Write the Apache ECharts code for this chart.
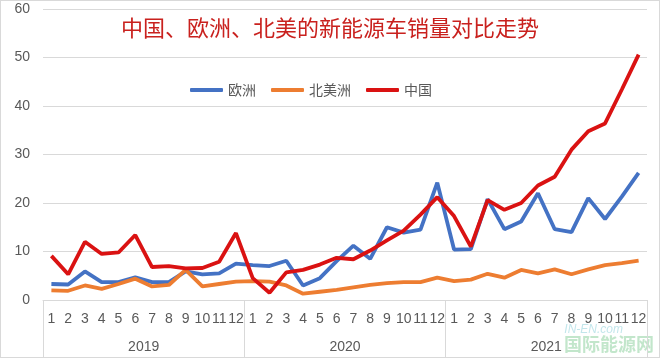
<!DOCTYPE html>
<html>
<head>
<meta charset="utf-8">
<script src="https://cdn.jsdelivr.net/npm/echarts@6/dist/echarts.min.js"></script>
<style>
html,body{margin:0;padding:0;background:#fff;}
#chart{width:660px;height:358px;box-sizing:border-box;border:1px solid #d9d9d9;}
</style>
</head>
<body>
<div id="chart"></div>
<script>
const months = ['1','2','3','4','5','6','7','8','9','10','11','12',
                '1','2','3','4','5','6','7','8','9','10','11','12',
                '1','2','3','4','5','6','7','8','9','10','11','12'];
const years = ['2019','2020','2021'];
const yTicks = {min:0, max:60, interval:10};

const europe = [3.3, 3.2, 5.9, 3.7, 3.7, 4.7, 3.7, 3.7, 5.9, 5.3, 5.5, 7.5,
                7.2, 7.0, 8.1, 3.0, 4.5, 8.0, 11.2, 8.5, 15.0, 13.9, 14.5, 24.2,
                10.4, 10.5, 20.8, 14.6, 16.2, 22.0, 14.6, 14.0, 21.0, 16.7, 21.3, 26.2];
const northAmerica = [2.0, 1.9, 3.0, 2.3, 3.3, 4.4, 2.8, 3.1, 6.2, 2.8, 3.3, 3.8,
                      3.9, 3.8, 3.0, 1.3, 1.7, 2.1, 2.6, 3.1, 3.5, 3.7, 3.7, 4.6,
                      3.9, 4.2, 5.4, 4.6, 6.2, 5.5, 6.3, 5.3, 6.3, 7.2, 7.6, 8.1];
const china = [9.1, 5.3, 12.0, 9.5, 9.8, 13.4, 6.8, 7.0, 6.5, 6.6, 7.9, 13.8,
               4.5, 1.5, 5.7, 6.2, 7.3, 8.7, 8.4, 10.2, 12.3, 14.3, 17.6, 21.2,
               17.3, 11.0, 20.6, 18.6, 20.0, 23.6, 25.4, 31.0, 34.8, 36.4, 43.4, 50.6];

const seriesNames = ['欧洲','北美洲','中国'];
const seriesColors = ['#4472C4','#ED7D31','#DA1212'];
const titleText = '中国、欧洲、北美的新能源车销量对比走势';

const chart = echarts.init(document.getElementById('chart'), null, {renderer:'canvas'});
const font = '"Noto Sans CJK SC", "Noto Sans", sans-serif';
const gray = '#595959';

chart.setOption({
  animation:false,
  backgroundColor:'#fff',
  title:{
    text:titleText, left:'center', top:11,
    textStyle:{color:'#C9211E', fontSize:22, fontWeight:'normal', fontFamily:font}
  },
  legend:{
    data:seriesNames, left:184, top:77,
    icon:'roundRect', itemWidth:33, itemHeight:4, itemGap:15,
    textStyle:{color:gray, fontSize:14, fontFamily:font}
  },
  grid:{left:42, right:12, top:8, bottom:57, containLabel:false},
  xAxis:[{
    type:'category', data:months, boundaryGap:true,
    axisLine:{show:true, lineStyle:{color:'#d9d9d9', width:1}},
    axisTick:{show:false},
    axisLabel:{interval:0, color:gray, fontSize:14, margin:12, fontFamily:'"Liberation Sans", sans-serif'},
    splitLine:{show:false}
  },{
    type:'category', data:years, position:'bottom', boundaryGap:true,
    axisLine:{show:false},
    axisTick:{show:true, length:58, lineStyle:{color:'#d9d9d9'}},
    axisLabel:{interval:0, color:gray, fontSize:14, margin:40, fontFamily:'"Liberation Sans", sans-serif'},
    splitLine:{show:false}
  }],
  yAxis:{
    type:'value', min:yTicks.min, max:yTicks.max, interval:yTicks.interval,
    axisLine:{show:false}, axisTick:{show:false},
    axisLabel:{color:gray, fontSize:14, margin:13, fontFamily:'"Liberation Sans", sans-serif'},
    splitLine:{lineStyle:{color:'#d9d9d9', width:1}}
  },
  series:[
    {name:seriesNames[0], type:'line', data:europe, symbol:'none', z:2,
     lineStyle:{color:seriesColors[0], width:3.8}, itemStyle:{color:seriesColors[0]}},
    {name:seriesNames[1], type:'line', data:northAmerica, symbol:'none', z:3,
     lineStyle:{color:seriesColors[1], width:3.8}, itemStyle:{color:seriesColors[1]}},
    {name:seriesNames[2], type:'line', data:china, symbol:'none', z:4,
     lineStyle:{color:seriesColors[2], width:3.8}, itemStyle:{color:seriesColors[2]}}
  ],
  graphic:[
    {type:'text', right:36, bottom:21, silent:true,
     style:{text:'IN-EN.com', fill:'rgba(120,200,210,0.45)', font:'italic 12px "Liberation Sans", sans-serif'}},
    {type:'text', right:5, bottom:4, silent:true,
     style:{text:'国际能源网', fill:'rgba(120,200,140,0.45)', font:'bold 18px "Noto Sans CJK SC", sans-serif'}}
  ]
});
</script>
</body>
</html>
